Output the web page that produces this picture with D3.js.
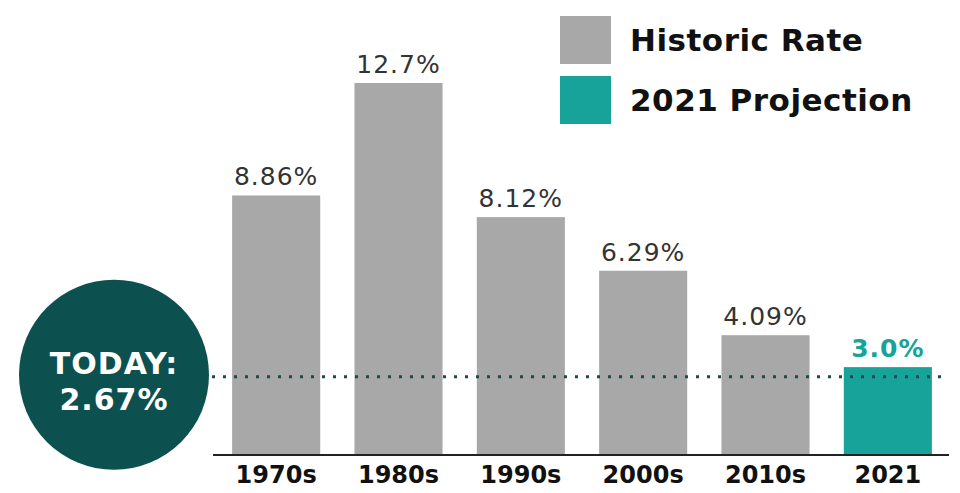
<!DOCTYPE html>
<html>
<head>
<meta charset="utf-8">
<script src="https://cdn.jsdelivr.net/npm/d3@7"></script>
<style>
  body { margin: 0; background: #fff; }
  svg { display: block; }
</style>
</head>
<body>
<div id="chart"></div>
<script>
// chart data
var decades = ["1970s", "1980s", "1990s", "2000s", "2010s", "2021"];
var rates = [8.86, 12.7, 8.12, 6.29, 4.09, 3.0];
var rateLabels = ["8.86%", "12.7%", "8.12%", "6.29%", "4.09%", "3.0%"];
var kinds = ["historic", "historic", "historic", "historic", "historic", "projection"];
var legendNames = ["Historic Rate", "2021 Projection"];
var todayRate = 2.67;
var todayLabel = ["TODAY:", "2.67%"];

var width = 960, height = 493;
var GREY = "#a8a8a8", TEAL = "#17a399", DARK = "#0c5050";
var FONT = "'DejaVu Sans', sans-serif";

var svg = d3.select("#chart").append("svg")
	.attr("width", width)
	.attr("height", height);

var x = d3.scaleBand()
	.domain(decades)
	.range([215, 949])
	.paddingInner(0.28)
	.paddingOuter(0.14);

var y = d3.scaleLinear()
	.domain([0, 12.7])
	.range([455, 83]);

var color = d3.scaleOrdinal()
	.domain(["historic", "projection"])
	.range([GREY, TEAL]);

// bars
svg.append("g")
	.selectAll("rect")
	.data(decades)
	.enter()
	.append("rect")
	.attr("x", d => x(d))
	.attr("y", (d, i) => y(rates[i]))
	.attr("width", x.bandwidth())
	.attr("height", (d, i) => y(0) - y(rates[i]))
	.attr("fill", (d, i) => color(kinds[i]));

// value labels
svg.append("g")
	.selectAll("text")
	.data(decades)
	.enter()
	.append("text")
	.attr("x", d => x(d) + x.bandwidth() / 2)
	.attr("y", (d, i) => y(rates[i]) - 10)
	.attr("text-anchor", "middle")
	.attr("font-family", FONT)
	.style("font-size", "25px")
	.style("letter-spacing", "1px")
	.attr("font-weight", (d, i) => kinds[i] == "projection" ? "bold" : "normal")
	.attr("fill", (d, i) => kinds[i] == "projection" ? TEAL : "#333")
	.text((d, i) => rateLabels[i]);

// x axis
var xAxis = svg.append("g")
	.attr("transform", "translate(0," + y(0) + ")")
	.call(d3.axisBottom(x).tickSize(0).tickPadding(11));
xAxis.select(".domain")
	.attr("stroke", "#222")
	.attr("stroke-width", 2)
	.attr("d", "M213,0H949");
xAxis.selectAll("text")
	.attr("font-family", FONT)
	.attr("font-weight", "bold")
	.attr("fill", "#111")
	.style("font-size", "24px");

// today circle
var cx = 114, cy = y(todayRate) - 2, r = 95;
svg.append("circle")
	.attr("cx", cx)
	.attr("cy", cy)
	.attr("r", r)
	.attr("fill", DARK);

// today dotted line
svg.append("line")
	.attr("x1", cx + r + 3)
	.attr("x2", 949)
	.attr("y1", y(todayRate))
	.attr("y2", y(todayRate))
	.attr("stroke", "#1f4a4a")
	.attr("stroke-width", 3)
	.attr("stroke-dasharray", "3,8");

svg.append("g")
	.selectAll("text")
	.data(todayLabel)
	.enter()
	.append("text")
	.attr("x", cx)
	.attr("y", (d, i) => 374 + i * 36)
	.attr("text-anchor", "middle")
	.attr("font-family", FONT)
	.attr("font-weight", "bold")
	.attr("fill", "#fff")
	.style("font-size", "30px")
	.style("letter-spacing", "1px")
	.text(d => d);

// legend
var legend = svg.append("g")
	.selectAll("g")
	.data(legendNames)
	.enter()
	.append("g")
	.attr("transform", (d, i) => "translate(560," + (16 + i * 60) + ")");
legend.append("rect")
	.attr("width", 51)
	.attr("height", 48)
	.attr("fill", (d, i) => i == 0 ? GREY : TEAL);
legend.append("text")
	.attr("x", 70)
	.attr("y", 35)
	.attr("font-family", FONT)
	.attr("font-weight", "bold")
	.attr("fill", "#111")
	.style("font-size", "31px")
	.style("letter-spacing", "0.5px")
	.text(d => d);
</script>
</body>
</html>
